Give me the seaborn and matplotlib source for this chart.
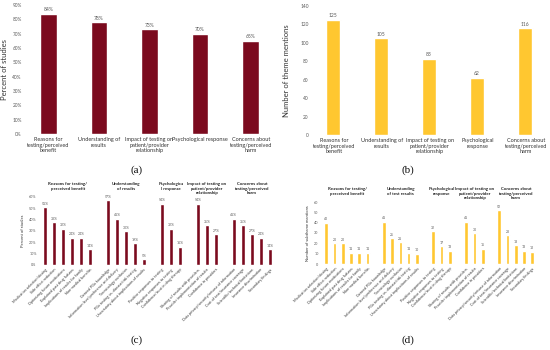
import pandas as pd
import seaborn as sns
import matplotlib.pyplot as plt
from matplotlib.ticker import FuncFormatter
from matplotlib.transforms import blended_transform_factory

# ---- data ----
themes_a = ["Reasons for\ntesting/perceived\nbenefit", "Understanding of\nresults",
            "Impact of testing on\npatient/provider\nrelationship", "Psychological response",
            "Concerns about\ntesting/perceived\nharm"]
themes_b = ["Reasons for\ntesting/perceived\nbenefit", "Understanding of\nresults",
            "Impact of testing on\npatient/provider\nrelationship", "Psychological\nresponse",
            "Concerns about\ntesting/perceived\nharm"]
pct_studies = [84, 78, 73, 70, 65]
theme_mentions = [125, 105, 83, 62, 116]

titles_c = ["Reasons for testing/\nperceived benefit", "Understanding\nof results",
            "Psychologica\nl response", "Impact of testing on\npatient/provider\nrelationship",
            "Concerns about\ntesting/perceived\nharm"]
titles_d = ["Reasons for testing/\nperceived benefit", "Understanding\nof test results",
            "Psychological\nresponse", "Impact of testing on\npatient/provider\nrelationship",
            "Concerns about\ntesting/perceived\nharm"]
subthemes = [
    ["Medication selection/dosing", "Side effect reduction", "Optimizing future medications",
     "Explained past drug failures", "Implications of results for family", "Non-medical benefits"],
    ["General PGx knowledge", "Information-level preference and delivery", "Terminology confusion",
     "PGx testing vs. disease/risk testing", "Uncertainty about implications of results"],
    ["Positive responses to testing", "Negative responses to testing", "Confidence/trust in drug therapy"],
    ["Sharing of results with providers", "Provider implementation of results", "Confidence in providers"],
    ["Data privacy/security/misuse of information", "Cost of test/insurance coverage",
     "Scientific/technical limitations", "Insurance discrimination", "Secondary findings"],
]
sub_pct = [[51, 38, 32, 24, 24, 14], [57, 41, 30, 19, 5], [54, 32, 16], [54, 35, 27], [41, 35, 27, 24, 14]]
sub_mentions = [[40, 20, 20, 11, 11, 11], [41, 25, 21, 11, 10], [32, 17, 13], [41, 30, 15], [52, 28, 18, 13, 12]]

RED = "#7B0A1E"
YELLOW = "#FFC730"
SHADE = "#B8864A"
GREY = "#595959"

sns.set_style("white")
plt.rcParams["font.family"] = ["Lato", "DejaVu Sans"]

fig = plt.figure(figsize=(5.5, 3.5), dpi=100)
W, H = 550.0, 350.0


def box(l, r, top, bottom):
    return [l / W, 1 - bottom / H, (r - l) / W, (bottom - top) / H]


pct_fmt = FuncFormatter(lambda v, p: f"{v:.0f}%")


def clean(ax, tick_fs):
    sns.despine(ax=ax, left=True, bottom=True)
    ax.tick_params(axis="both", length=0, labelsize=tick_fs, colors=GREY, pad=1)
    ax.set_xlabel("")


def shade_bars(ax, n):
    # shift the top (yellow) layer left a bit so the brown layer shows on the right
    for p in ax.patches[n:]:
        p.set_x(p.get_x() - p.get_width() * 0.08)


# ---- (a) ----
ax = fig.add_axes(box(23, 276, 5, 134))
df_a = pd.DataFrame({"theme": themes_a, "pct": pct_studies})
sns.barplot(df_a, x="theme", y="pct", color=RED, width=0.33, saturation=1, ax=ax)
ax.bar_label(ax.containers[0], fmt="%d%%", fontsize=3.6, color=GREY, padding=1)
ax.set_ylim(0, 90)
ax.set_yticks(range(0, 91, 10))
ax.yaxis.set_major_formatter(pct_fmt)
clean(ax, 3.4)
ax.tick_params(axis="x", labelsize=4.0, colors="#333333", pad=2)
ax.set_ylabel("Percent of studies", fontsize=5.5, color="#333333", labelpad=3)

# ---- (b) ----
ax = fig.add_axes(box(310, 550, 6, 135))
df_b = pd.DataFrame({"theme": themes_b, "n": theme_mentions})
sns.barplot(df_b, x="theme", y="n", color=SHADE, width=0.3, saturation=1, ax=ax)
sns.barplot(df_b, x="theme", y="n", color=YELLOW, width=0.3, saturation=1, ax=ax)
shade_bars(ax, len(theme_mentions))
ax.bar_label(ax.containers[1], fmt="%d", fontsize=3.6, color=GREY, padding=1)
ax.set_ylim(0, 140)
ax.set_yticks(range(0, 141, 20))
clean(ax, 3.4)
ax.tick_params(axis="x", labelsize=4.0, colors="#333333", pad=2)
ax.set_ylabel("Number of theme mentions", fontsize=5.5, color="#333333", labelpad=7)


# ---- (c) / (d) ----
def subtheme_panel(ax, values, titles, fmt, color, title_top, ylabel, shaded):
    rows, order, centers = [], [], []
    for g, (labels, vals) in enumerate(zip(subthemes, values)):
        if g:
            order.append(" " * g)
        start = len(order)
        order += labels
        centers.append((start + len(order) - 1) / 2)
        rows += [{"sub": l, "v": v} for l, v in zip(labels, vals)]
    df = pd.DataFrame(rows)
    if shaded:
        sns.barplot(df, x="sub", y="v", order=order, color=SHADE, width=0.45, saturation=1, ax=ax)
        n = len(ax.patches)
    sns.barplot(df, x="sub", y="v", order=order, color=color, width=0.45, saturation=1, ax=ax)
    if shaded:
        shade_bars(ax, n)
    ax.bar_label(ax.containers[-1], fmt=fmt, fontsize=2.5, color=GREY, padding=1)
    ax.set_xlim(-0.8, len(order) - 0.2)
    ax.set_xticks(range(len(order)))
    ax.set_xticklabels([o if o.strip() else "" for o in order], rotation=45, ha="right",
                       rotation_mode="anchor")
    clean(ax, 2.7)
    ax.tick_params(axis="x", pad=2, colors="#333333")
    ax.set_ylabel(ylabel, fontsize=3, color="#333333", labelpad=3)
    tr = blended_transform_factory(ax.transData, fig.transFigure)
    for c, t in zip(centers, titles):
        ax.text(c, 1 - title_top / H, t, transform=tr, ha="center", va="top",
                fontsize=3.2, fontweight="bold", color="#222222", linespacing=1.2)


ax = fig.add_axes(box(38, 277, 197, 265))
subtheme_panel(ax, sub_pct, titles_c, "%d%%", RED, 182, "Percent of studies", False)
ax.set_ylim(0, 60)
ax.set_yticks(range(0, 61, 10))
ax.yaxis.set_major_formatter(pct_fmt)

ax = fig.add_axes(box(320, 539, 202, 264))
subtheme_panel(ax, sub_mentions, titles_d, "%d", YELLOW, 187, "Number of subtheme mentions", True)
ax.set_ylim(0, 60)
ax.set_yticks(range(0, 61, 10))

# ---- panel labels ----
for x, y, lab in [(137, 170, "(a)"), (408, 170, "(b)"), (137, 340, "(c)"), (408, 340, "(d)")]:
    fig.text(x / W, 1 - y / H, lab, ha="center", va="center", fontsize=8,
             family=["Liberation Serif", "DejaVu Serif"], color="#111111")

fig.savefig("out.png", dpi=100)
